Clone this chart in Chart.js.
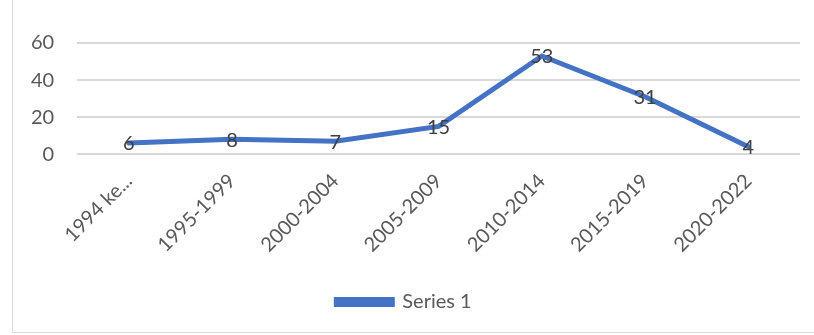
<!DOCTYPE html>
<html>
<head>
<meta charset="utf-8">
<script src="https://cdn.jsdelivr.net/npm/chart.js@4/dist/chart.umd.min.js"></script>
<style>
    html, body { margin: 0; padding: 0; background: #fff; }
    #wrap { position: relative; width: 814px; height: 335px; }
    #frame { position: absolute; left: 12px; top: -1px; width: 810px; height: 334px; border: 1px solid #d9d9d9; box-sizing: border-box; }
</style>
</head>
<body>
<div id="wrap">
    <div id="frame"></div>
    <canvas id="chart" width="814" height="335"></canvas>
</div>
<script>
const categories = ["1994 ke...", "1995-1999", "2000-2004", "2005-2009", "2010-2014", "2015-2019", "2020-2022"];
const series1 = [6, 8, 7, 15, 53, 31, 4];
const yTicks = [0, 20, 40, 60];

const fontFamily = "Lato, 'Open Sans', sans-serif";

// Draw the value of each point centred on it
const valueLabels = {
    id: "valueLabels",
    afterDatasetsDraw(chart) {
        const ctx = chart.ctx;
        ctx.save();
        ctx.font = "20px " + fontFamily;
        ctx.fillStyle = "#404040";
        ctx.textAlign = "center";
        ctx.textBaseline = "middle";
        chart.getDatasetMeta(0).data.forEach((pt, i) => {
            ctx.fillText(String(series1[i]), pt.x, pt.y + 1);
        });
        ctx.restore();
    }
};

new Chart(document.getElementById("chart").getContext("2d"), {
    type: "line",
    data: {
        labels: categories,
        datasets: [{
            label: "Series 1",
            data: series1,
            borderColor: "#4472C4",
            backgroundColor: "#4472C4",
            borderWidth: 5,
            pointRadius: 0,
            tension: 0,
            borderCapStyle: "round"
        }]
    },
    options: {
        responsive: false,
        animation: false,
        layout: { padding: { left: 8, right: 14, top: 43, bottom: 13 } },
        scales: {
            x: {
                offset: true,
                grid: { display: false, drawTicks: false },
                border: { display: false },
                ticks: {
                    color: "#595959",
                    font: { family: fontFamily, size: 20 },
                    maxRotation: 45,
                    minRotation: 45,
                    padding: 15,
                    autoSkip: false
                }
            },
            y: {
                min: 0,
                max: 60,
                afterBuildTicks(axis) { axis.ticks = yTicks.map(v => ({ value: v })); },
                grid: { color: "#d9d9d9", lineWidth: 2, drawTicks: false },
                border: { display: false },
                ticks: {
                    color: "#595959",
                    font: { family: fontFamily, size: 20 },
                    padding: 23
                }
            }
        },
        plugins: {
            legend: {
                position: "bottom",
                labels: {
                    color: "#595959",
                    font: { family: fontFamily, size: 20 },
                    boxWidth: 56,
                    boxHeight: 5,
                    padding: 20
                }
            },
            tooltip: { enabled: false }
        }
    },
    plugins: [valueLabels]
});
</script>
</body>
</html>
